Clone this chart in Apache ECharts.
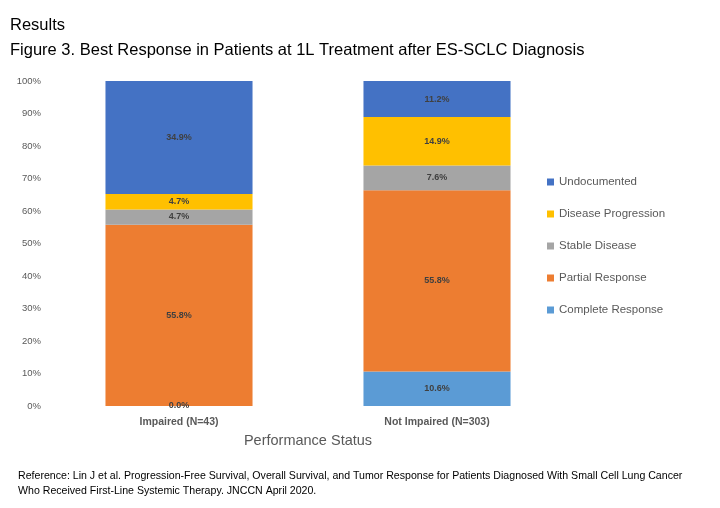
<!DOCTYPE html>
<html>
<head>
<meta charset="utf-8">
<script src="https://cdn.jsdelivr.net/npm/echarts@6/dist/echarts.min.js"></script>
<style>
  html, body { margin: 0; padding: 0; background: #fff; }
  #chart { width: 720px; height: 508px; }
</style>
</head>
<body>
<div id="chart"></div>
<script>
// categories + series values (percent)
const categories = ['Impaired (N=43)', 'Not Impaired (N=303)'];
const completeResponse = [0.0, 10.6];
const partialResponse = [55.8, 55.8];
const stableDisease = [4.7, 7.6];
const diseaseProgression = [4.7, 14.9];
const undocumented = [34.9, 11.2];
const yTicks = [0, 10, 20, 30, 40, 50, 60, 70, 80, 90, 100];

const font = '"Liberation Sans", sans-serif';

function mkSeries(name, data, color) {
  return {
    name: name,
    type: 'bar',
    stack: 'total',
    barWidth: '57%',
    data: data,
    itemStyle: { color: color },
    label: {
      show: true,
      position: 'inside',
      formatter: p => p.value.toFixed(1) + '%',
      color: '#404040',
      fontWeight: 'bold',
      fontSize: 9,
      fontFamily: font
    }
  };
}

const chart = echarts.init(document.getElementById('chart'));
chart.setOption({
  animation: false,
  textStyle: { fontFamily: font },
  graphic: [
    { type: 'text', left: 10, top: 17, style: { text: 'Results', fontSize: 16.5, fill: '#000', fontFamily: font } },
    { type: 'text', left: 10, top: 42, style: { text: 'Figure 3. Best Response in Patients at 1L Treatment after ES-SCLC Diagnosis', fontSize: 16.5, fill: '#000', fontFamily: font } },
    { type: 'text', left: 18, top: 469, style: { text: 'Reference: Lin J et al. Progression-Free Survival, Overall Survival, and Tumor Response for Patients Diagnosed With Small Cell Lung Cancer\nWho Received First-Line Systemic Therapy. JNCCN April 2020.', fontSize: 10.6, lineHeight: 15, fill: '#000', fontFamily: font } }
  ],
  legend: {
    orient: 'vertical',
    left: 542,
    top: 171,
    itemWidth: 7,
    itemHeight: 7,
    itemGap: 20,
    icon: 'rect',
    textStyle: { color: '#595959', fontSize: 11.5, fontFamily: font },
    data: ['Undocumented', 'Disease Progression', 'Stable Disease', 'Partial Response', 'Complete Response']
  },
  grid: { left: 50, width: 516, top: 81, height: 325 },
  xAxis: {
    type: 'category',
    data: categories,
    name: 'Performance Status',
    nameLocation: 'middle',
    nameGap: 27,
    nameTextStyle: { color: '#595959', fontSize: 14.5, fontFamily: font },
    axisLine: { show: false },
    axisTick: { show: false },
    axisLabel: { color: '#595959', fontWeight: 'bold', fontSize: 10.5, margin: 11, fontFamily: font }
  },
  yAxis: {
    type: 'value',
    min: 0,
    max: 100,
    interval: 10,
    splitLine: { show: false },
    axisLine: { show: false },
    axisTick: { show: false },
    axisLabel: {
      color: '#595959', fontSize: 9.5, margin: 9, fontFamily: font,
      formatter: v => yTicks.includes(v) ? v + '%' : ''
    }
  },
  series: [
    mkSeries('Complete Response', completeResponse, '#5B9BD5'),
    mkSeries('Partial Response', partialResponse, '#ED7D31'),
    mkSeries('Stable Disease', stableDisease, '#A5A5A5'),
    mkSeries('Disease Progression', diseaseProgression, '#FFC000'),
    mkSeries('Undocumented', undocumented, '#4472C4')
  ]
});
</script>
</body>
</html>
